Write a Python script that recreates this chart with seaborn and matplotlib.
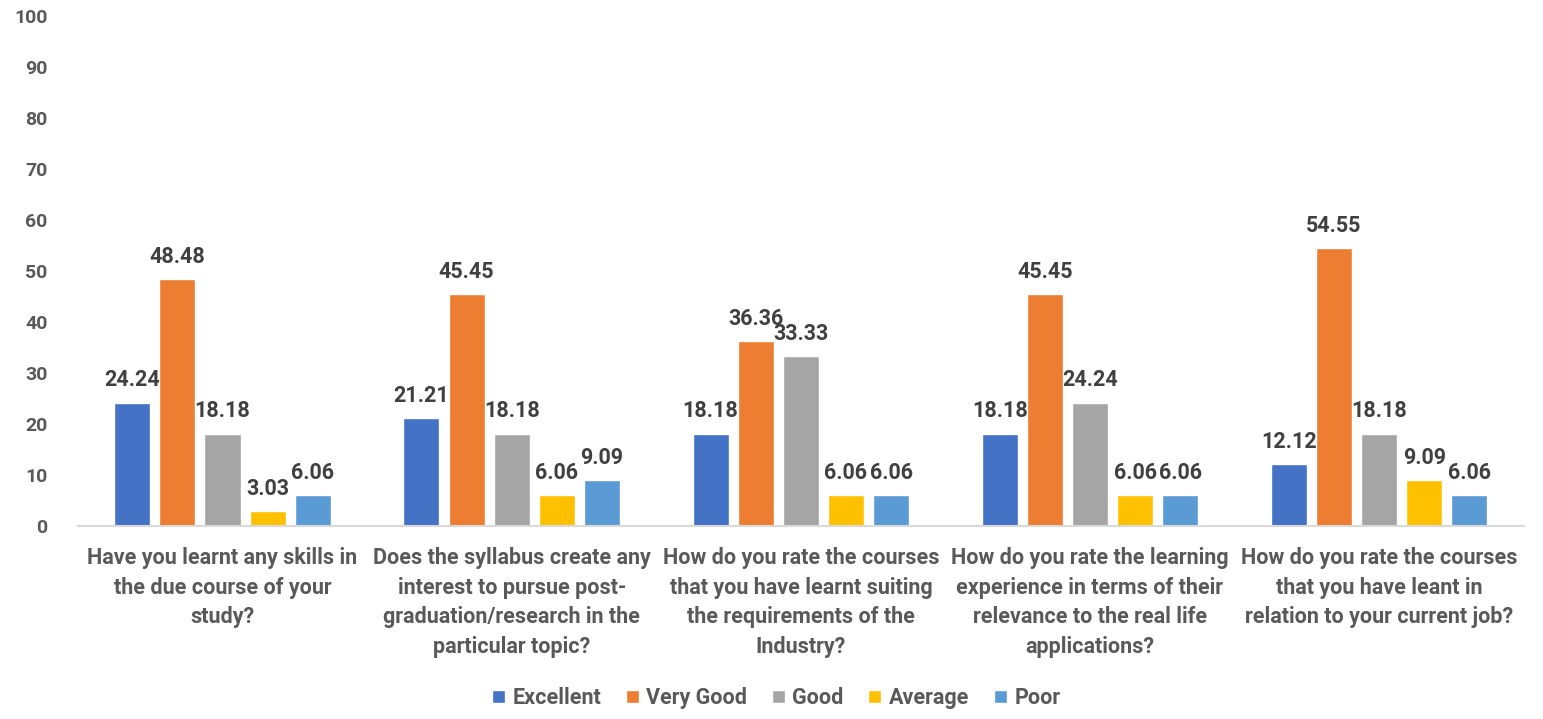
import matplotlib
matplotlib.use("Agg")
import matplotlib.pyplot as plt
import seaborn as sns
import pandas as pd

questions = [
    "Have you learnt any skills in\nthe due course of your\nstudy?",
    "Does the syllabus create any\ninterest to pursue post-\ngraduation/research in the\nparticular topic?",
    "How do you rate the courses\nthat you have learnt suiting\nthe requirements of the\nIndustry?",
    "How do you rate the learning\nexperience in terms of their\nrelevance to the real life\napplications?",
    "How do you rate the courses\nthat you have leant in\nrelation to your current job?",
]
ratings = ["Excellent", "Very Good", "Good", "Average", "Poor"]
excellent = [24.24, 21.21, 18.18, 18.18, 12.12]
very_good = [48.48, 45.45, 36.36, 45.45, 54.55]
good = [18.18, 18.18, 33.33, 24.24, 18.18]
average = [3.03, 6.06, 6.06, 6.06, 9.09]
poor = [6.06, 9.09, 6.06, 6.06, 6.06]
yticks = list(range(0, 101, 10))

colors = ["#4472C4", "#ED7D31", "#A5A5A5", "#FFC000", "#5B9BD5"]

series = [excellent, very_good, good, average, poor]
rows = []
for r, vals in zip(ratings, series):
    for q, v in zip(questions, vals):
        rows.append({"Question": q, "Rating": r, "Value": v})
df = pd.DataFrame(rows)

sns.set_theme(style="white")
plt.rcParams["font.family"] = ["Roboto", "DejaVu Sans"]

fig = plt.figure(figsize=(15.43, 7.19), dpi=100)
ax = fig.add_axes([0.0505, 0.268, 0.937, 0.71])

sns.barplot(data=df, x="Question", y="Value", hue="Rating", order=questions,
            hue_order=ratings, palette=colors, width=0.78, gap=0.2,
            ax=ax, legend=True, saturation=1)

for cont in ax.containers:
    ax.bar_label(cont, labels=[f"{b.get_height():.2f}" for b in cont],
                 padding=8, fontsize=15.5, fontweight="bold", color="#404040")

ax.set_ylim(0, 100)
ax.set_yticks(yticks)
ax.set_yticklabels([str(t) for t in yticks], fontsize=14, fontweight="bold", color="#595959")
ax.tick_params(axis="y", length=0, pad=22)
ax.tick_params(axis="x", length=0, pad=15)
for lbl in ax.get_xticklabels():
    lbl.set_fontsize(15.5)
    lbl.set_fontweight("bold")
    lbl.set_color("#595959")
    lbl.set_linespacing(1.44)
    lbl.set_verticalalignment("top")
ax.set_xlim(-0.5, 4.5)
ax.set_xlabel("")
ax.set_ylabel("")
for side in ["top", "right", "left"]:
    ax.spines[side].set_visible(False)
ax.spines["bottom"].set_color("#D9D9D9")
ax.spines["bottom"].set_linewidth(1.5)

handles, labels = ax.get_legend_handles_labels()
ax.legend_.remove()
leg = fig.legend(handles, labels, loc="center", bbox_to_anchor=(0.503, 0.029), ncol=5,
                 frameon=False, handlelength=0.6, handleheight=0.6, handletextpad=0.35,
                 columnspacing=1.15, prop={"size": 15.5, "weight": "bold"})
for t in leg.get_texts():
    t.set_color("#595959")

fig.savefig("out.png", dpi=100)
